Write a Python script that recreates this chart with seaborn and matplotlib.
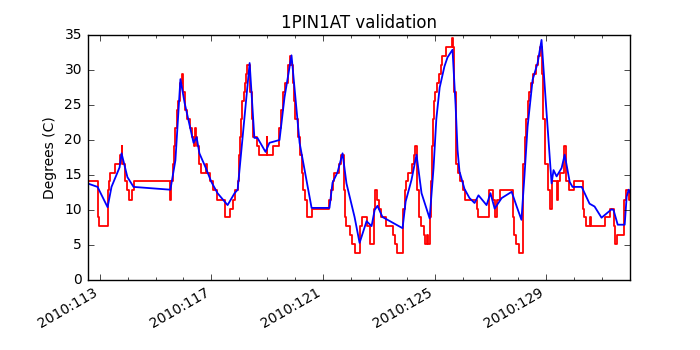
import matplotlib
matplotlib.use("Agg")
import matplotlib.pyplot as plt
import seaborn as sns
import pandas as pd
from matplotlib.ticker import FixedLocator, MultipleLocator, FuncFormatter

# measured temperature (quantized telemetry), day-of-year 2010
red_day = [112.56, 112.92, 112.96, 113.28, 113.30, 113.33, 113.38, 113.53, 113.74, 113.78,
           113.81, 113.89, 113.92, 113.99, 114.06, 114.17, 114.21, 115.53, 115.57, 115.61,
           115.65, 115.71, 115.75, 115.82, 115.86, 115.89, 115.93, 115.97, 116.00, 116.04,
           116.07, 116.14, 116.22, 116.29, 116.39, 116.43, 116.46, 116.50, 116.54, 116.57,
           116.64, 116.82, 116.86, 116.96, 117.04, 117.20, 117.47, 117.68, 117.76, 117.86,
           117.94, 117.98, 118.01, 118.06, 118.11, 118.16, 118.19, 118.24, 118.29, 118.37,
           118.40, 118.44, 118.48, 118.65, 118.72, 118.98, 119.01, 119.19, 119.44, 119.51,
           119.58, 119.65, 119.73, 119.80, 119.87, 119.91, 119.96, 120.01, 120.09, 120.16,
           120.23, 120.30, 120.37, 120.41, 120.44, 120.59, 121.23, 121.27, 121.34, 121.41,
           121.59, 121.66, 121.74, 121.77, 121.84, 121.95, 122.05, 122.13, 122.20, 122.31,
           122.34, 122.38, 122.59, 122.67, 122.70, 122.81, 122.88, 122.92, 122.99, 123.06,
           123.24, 123.51, 123.58, 123.65, 123.86, 123.93, 123.97, 124.04, 124.18, 124.25,
           124.31, 124.38, 124.45, 124.52, 124.63, 124.67, 124.71, 124.75, 124.82, 124.86,
           124.89, 124.93, 124.96, 125.00, 125.07, 125.14, 125.21, 125.28, 125.39, 125.61,
           125.66, 125.71, 125.75, 125.78, 125.82, 125.92, 126.03, 126.10, 126.50, 126.57,
           126.93, 127.08, 127.15, 127.22, 127.33, 127.79, 127.83, 127.86, 127.93, 128.04,
           128.15, 128.18, 128.22, 128.26, 128.33, 128.37, 128.44, 128.51, 128.62, 128.72,
           128.79, 128.83, 128.90, 128.97, 129.05, 129.12, 129.19, 129.37, 129.41, 129.48,
           129.62, 129.70, 129.82, 130.00, 130.30, 130.36, 130.44, 130.55, 130.60, 131.09,
           131.27, 131.42, 131.45, 131.52, 131.77, 131.84, 131.95, 132.00]
red_deg = [14.1, 9.0, 7.7, 10.2, 12.8, 14.1, 15.3, 16.6, 17.9, 19.2,
           16.6, 15.3, 14.1, 12.8, 11.5, 12.8, 14.1, 11.5, 14.1, 16.6,
           19.2, 21.7, 24.3, 25.6, 26.8, 28.1, 29.4, 28.1, 26.8, 25.6,
           24.3, 23.0, 21.7, 20.4, 19.2, 21.7, 20.4, 19.2, 17.9, 16.6,
           15.3, 16.6, 15.3, 14.1, 12.8, 11.5, 9.0, 10.2, 11.5, 12.8,
           14.1, 17.9, 20.4, 23.0, 25.6, 26.8, 28.1, 29.4, 30.7, 29.4,
           26.8, 23.0, 20.4, 19.2, 17.9, 20.4, 17.9, 19.2, 21.7, 24.3,
           26.8, 28.1, 30.7, 32.0, 30.7, 28.1, 25.6, 23.0, 20.4, 17.9,
           15.3, 12.8, 11.5, 10.2, 9.0, 10.2, 11.5, 12.8, 14.1, 15.3,
           16.6, 17.9, 12.8, 9.0, 7.7, 6.4, 5.1, 3.9, 3.9, 6.4,
           7.7, 9.0, 7.7, 6.4, 5.1, 10.2, 12.8, 11.5, 10.2, 9.0,
           7.7, 6.4, 5.1, 3.9, 10.2, 12.8, 14.1, 15.3, 16.6, 17.9,
           19.2, 12.8, 9.0, 7.7, 6.4, 5.1, 6.4, 5.1, 9.0, 14.1,
           19.2, 23.0, 25.6, 26.8, 28.1, 29.4, 30.7, 32.0, 33.3, 34.6,
           33.3, 26.8, 20.4, 16.6, 15.3, 14.1, 12.8, 11.5, 10.2, 9.0,
           12.8, 11.5, 9.0, 11.5, 12.8, 9.0, 7.7, 6.4, 5.1, 3.9,
           9.0, 16.6, 20.4, 23.0, 25.6, 26.8, 28.1, 29.4, 30.7, 32.0,
           33.3, 29.4, 23.0, 16.6, 12.8, 10.2, 14.1, 11.5, 14.1, 15.3,
           19.2, 14.1, 12.8, 14.1, 10.2, 9.0, 7.7, 9.0, 7.7, 9.0,
           10.2, 7.7, 5.1, 6.4, 11.5, 12.8, 11.5, 11.5]

# model prediction
blue_day = [112.56, 112.92, 113.28, 113.42, 113.71, 113.78, 113.99, 114.21, 115.53, 115.71,
            115.89, 116.04, 116.36, 116.47, 116.57, 116.80, 117.00, 117.22, 117.58, 117.83,
            117.94, 118.37, 118.54, 118.65, 118.94, 119.08, 119.44, 119.62, 119.87, 120.16,
            120.59, 121.23, 121.34, 121.52, 121.70, 121.84, 122.13, 122.31, 122.56, 122.74,
            122.85, 122.95, 123.13, 123.49, 123.85, 123.96, 124.17, 124.35, 124.53, 124.82,
            124.96, 125.06, 125.18, 125.35, 125.46, 125.64, 125.75, 125.82, 125.89, 126.07,
            126.25, 126.43, 126.57, 126.86, 127.00, 127.15, 127.40, 127.76, 127.94, 128.11,
            128.22, 128.33, 128.51, 128.69, 128.83, 129.01, 129.19, 129.26, 129.37, 129.55,
            129.66, 129.84, 129.94, 130.27, 130.55, 130.73, 130.98, 131.34, 131.41, 131.56,
            131.81, 131.88, 131.95, 132.00]
blue_deg = [13.8, 13.3, 10.4, 13.3, 16.1, 18.1, 14.7, 13.3, 12.9, 17.1,
            28.7, 25.3, 19.6, 20.4, 18.1, 16.0, 14.0, 12.4, 10.7, 12.4,
            12.9, 31.0, 20.3, 20.3, 18.3, 19.6, 20.0, 26.1, 32.1, 19.6,
            10.3, 10.3, 13.9, 15.4, 18.1, 13.8, 9.0, 5.3, 8.4, 7.7,
            10.0, 10.6, 9.0, 8.2, 7.4, 11.2, 14.3, 17.9, 12.4, 8.8,
            16.0, 23.0, 27.5, 30.5, 31.8, 32.9, 25.0, 18.6, 15.5, 13.0,
            11.7, 11.0, 12.1, 10.7, 12.4, 10.2, 11.7, 12.6, 10.5, 8.6,
            15.0, 21.9, 28.6, 31.0, 34.3, 23.9, 13.8, 15.7, 14.8, 16.0,
            17.9, 14.0, 13.3, 13.3, 10.9, 10.5, 8.9, 10.1, 10.0, 7.9,
            7.9, 11.9, 12.9, 12.5]

major_days = [113, 117, 121, 125, 129]

plt.style.use("classic")
plt.rcParams["font.size"] = 10
fig, ax = plt.subplots(figsize=(7, 3.5), dpi=100)

red = pd.DataFrame({"day": red_day, "deg": red_deg})
blue = pd.DataFrame({"day": blue_day, "deg": blue_deg})

sns.lineplot(data=red, x="day", y="deg", color="red", drawstyle="steps-post",
             estimator=None, sort=False, lw=1.3, ax=ax)
sns.lineplot(data=blue, x="day", y="deg", color="blue",
             estimator=None, sort=False, lw=1.3, ax=ax)

ax.set_xlim(112.56, 132.0)
ax.set_ylim(0, 35)
ax.xaxis.set_major_locator(FixedLocator(major_days))
ax.xaxis.set_minor_locator(MultipleLocator(1))
ax.xaxis.set_major_formatter(FuncFormatter(lambda v, p: "2010:%d" % round(v)))
ax.set_xlabel("")
ax.set_ylabel("Degrees (C)")
ax.set_title("1PIN1AT validation")

fig.autofmt_xdate()
fig.subplots_adjust(left=0.125, right=0.9, top=0.9, bottom=0.2)
fig.savefig("out.png", dpi=100)
